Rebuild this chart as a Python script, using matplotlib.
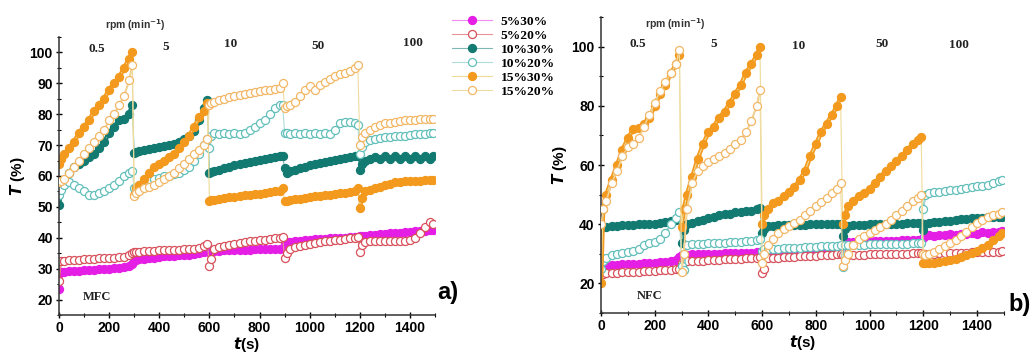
import matplotlib
matplotlib.use("Agg")
import matplotlib.pyplot as plt
from matplotlib.ticker import MultipleLocator
import numpy as np

# sampling offsets inside each 300 s rpm step
seg_offsets = [0, 8, 20, 40, 60, 80, 100, 120, 140, 160, 180, 200, 220, 240, 260, 280, 292]
seg_len = 300
rpm_labels = ["0.5", "5", "10", "50", "100"]
series_names = ["5%30%", "5%20%", "10%30%", "10%20%", "15%30%", "15%20%"]

# ---- MFC (panel a), one list per rpm step ----
mfc_5_30 = [
    [23.5, 29, 29, 29.2, 29.3, 29.4, 29.5, 29.6, 29.7, 29.8, 29.9, 30, 30.1, 30.2, 30.4, 30.8, 31.5],
    [32.5, 32.8, 33, 33.2, 33.4, 33.6, 33.8, 34, 34.1, 34.2, 34.3, 34.4, 34.5, 34.7, 35, 35.3, 35.8],
    [35.5, 35.6, 35.7, 35.8, 35.9, 36, 36, 36.1, 36.2, 36.2, 36.3, 36.3, 36.4, 36.4, 36.5, 36.5, 36.6],
    [38.5, 38.6, 38.7, 38.9, 39.1, 39.3, 39.4, 39.5, 39.6, 39.7, 39.8, 39.9, 40, 40, 40.1, 40.2, 40.3],
    [40.5, 40.6, 40.7, 40.9, 41, 41.2, 41.3, 41.5, 41.6, 41.7, 41.9, 42, 42.1, 42.2, 42.3, 42.4, 42.5],
]
mfc_5_20 = [
    [26, 32.5, 32.5, 32.7, 32.8, 32.9, 33, 33.1, 33.2, 33.3, 33.4, 33.5, 33.6, 33.7, 33.9, 34.3, 35],
    [35.3, 35.4, 35.5, 35.6, 35.7, 35.8, 35.9, 36, 36, 36.1, 36.2, 36.3, 36.4, 36.5, 36.8, 37.2, 38],
    [31, 33, 36.5, 37, 37.3, 37.6, 37.9, 38.2, 38.5, 38.8, 39, 39.2, 39.4, 39.6, 39.8, 40, 40.2],
    [33.5, 35, 36.5, 37, 37.3, 37.6, 37.9, 38.2, 38.5, 38.8, 39, 39.2, 39.4, 39.6, 39.8, 40, 40.2],
    [35.5, 37.5, 38.5, 39, 39, 38.8, 39, 39, 38.8, 39, 39, 39.2, 40, 41.5, 43.5, 45, 44.5],
]
mfc_10_30 = [
    [50.5, 56, 58, 61, 63, 64, 65, 66, 67, 69, 71, 74, 76, 78, 78.5, 80, 83],
    [67.5, 67.8, 68, 68.5, 68.8, 69, 69.3, 69.7, 70, 70.5, 71, 72, 73, 74.5, 78, 82, 84.5],
    [61, 61.2, 61.5, 62, 62.5, 63, 63.4, 63.8, 64.2, 64.6, 65, 65.3, 65.6, 65.9, 66.2, 66.4, 66.6],
    [62.5, 61, 61.5, 62, 62.5, 63, 63.4, 63.8, 64.2, 64.6, 65, 65.3, 65.6, 65.9, 66.2, 66.4, 66.6],
    [62, 64, 65, 65.5, 66, 65.5, 66.5, 65.5, 66.5, 65.5, 66.5, 65.5, 66.5, 65.5, 66.5, 65.5, 66.5],
]
mfc_10_20 = [
    [54, 55.5, 57, 58, 57, 56, 55, 54, 54, 54.5, 55, 56, 57, 58.5, 60, 61, 61.5],
    [56, 56.5, 57, 58, 59, 59, 59.5, 60, 60, 60.5, 61, 62, 63, 65, 67, 70, 72],
    [69, 73, 74, 73.5, 74, 73.5, 74, 73.5, 74, 75, 76, 77, 78, 80, 82, 83, 83],
    [74, 74, 73.5, 74, 73.5, 74, 73.5, 74, 73.5, 74, 73.5, 75, 77, 77.5, 77.5, 77, 76.5],
    [67, 69.5, 71, 71.5, 72, 72.2, 72.5, 72.7, 72.9, 73, 73.1, 73.3, 73.5, 73.6, 73.7, 73.8, 74],
]
mfc_15_30 = [
    [64, 65.5, 67, 69, 71, 74, 76, 78, 81, 83, 85, 88, 90, 92, 95, 98, 100],
    [54, 56, 57, 59, 61, 63, 64, 65, 66, 67, 69, 71, 73, 76, 79, 81, 83.5],
    [52, 52.1, 52.3, 52.6, 52.9, 53.1, 53.3, 53.5, 53.7, 53.9, 54.1, 54.3, 54.5, 54.7, 55, 55.3, 56],
    [52, 52, 52.2, 52.5, 52.7, 53, 53.2, 53.4, 53.6, 53.8, 54, 54.2, 54.4, 54.6, 54.8, 55.2, 56],
    [49.5, 53, 55, 55.5, 56, 56.5, 57, 57.5, 58, 58.2, 58.3, 58.4, 58.5, 58.5, 58.6, 58.6, 58.7],
]
mfc_15_20 = [
    [58, 58.5, 59, 61, 63, 65, 67, 69, 71, 73, 75, 78, 80, 83, 86, 91, 96],
    [53.5, 54.5, 55, 56, 56.5, 57, 58, 59, 60, 61, 62.5, 64, 65.5, 67, 68.5, 70, 72],
    [83, 83.5, 84, 84.5, 85, 85.5, 86, 86.3, 86.6, 87, 87.2, 87.5, 87.8, 88, 88.3, 88.6, 90],
    [82, 82.5, 83, 84, 86, 88, 89, 88, 89.5, 90.5, 91.5, 92.5, 93, 93.5, 94, 95, 96],
    [70, 72.5, 74, 75, 75.8, 76.5, 77, 77.3, 77.6, 77.8, 78, 78, 78.2, 78.3, 78.4, 78.5, 78.6],
]

# ---- NFC (panel b) ----
nfc_5_30 = [
    [25, 26, 26, 26.2, 26.3, 26.4, 26.5, 26.6, 26.7, 26.8, 26.9, 27, 27.1, 27.3, 27.5, 28, 29],
    [29.5, 29.5, 29.7, 29.8, 29.9, 30, 30, 30.1, 30.1, 30.2, 30.2, 30.3, 30.3, 30.4, 30.4, 30.5, 30.6],
    [30.5, 30.6, 30.6, 30.7, 30.7, 30.8, 30.8, 30.9, 30.9, 31, 31, 31.1, 31.1, 31.2, 31.2, 31.3, 31.5],
    [33, 33.5, 34, 34, 34.1, 34.1, 34.2, 34.2, 34.3, 34.3, 34.4, 34.4, 34.5, 34.5, 34.6, 34.6, 34.8],
    [35.5, 36, 36.2, 36, 36.4, 36.2, 36.6, 36.4, 36.8, 36.6, 37, 36.8, 37.2, 37, 37.5, 37.5, 37.8],
]
nfc_5_20 = [
    [23, 23.2, 23.4, 23.5, 23.6, 23.7, 23.8, 23.9, 24, 24.1, 24.2, 24.3, 24.4, 24.5, 24.6, 24.8, 25],
    [27, 27.2, 27.4, 27.5, 27.6, 27.7, 27.8, 27.9, 28, 28.1, 28.2, 28.3, 28.4, 28.5, 28.6, 28.7, 28.8],
    [23.5, 25, 28.5, 28.6, 28.7, 28.8, 28.9, 29, 29.1, 29.2, 29.3, 29.4, 29.5, 29.6, 29.7, 29.8, 29.9],
    [29.5, 29.5, 29.6, 29.6, 29.7, 29.7, 29.8, 29.8, 29.9, 29.9, 30, 30, 30.1, 30.1, 30.2, 30.2, 30.3],
    [30, 30, 30.1, 30.1, 30.2, 30.2, 30.3, 30.3, 30.4, 30.4, 30.5, 30.5, 30.6, 30.6, 30.7, 30.7, 30.8],
]
nfc_10_30 = [
    [39, 39, 39.2, 39.4, 39.5, 39.6, 39.7, 39.8, 39.9, 40, 40, 40.2, 40.4, 40.6, 41, 41.5, 42.5],
    [33.5, 38, 40, 40.5, 41, 41.5, 42, 42.5, 43, 43.3, 43.6, 44, 44.2, 44.4, 44.6, 45, 45.5],
    [37, 38.5, 39.5, 39.5, 39.6, 39.6, 39.7, 39.7, 39.8, 39.8, 39.9, 39.9, 40, 40, 40, 40.1, 40.2],
    [36, 38.5, 39.5, 39.6, 39.7, 39.8, 39.9, 40, 40, 40.1, 40.1, 40.2, 40.2, 40.3, 40.3, 40.4, 40.5],
    [38, 40, 40.5, 40.6, 40.8, 41, 41.2, 41.4, 41.6, 41.8, 42, 42.1, 42.2, 42.3, 42.4, 42.5, 42.5],
]
nfc_10_20 = [
    [25, 27.5, 28.5, 29.5, 30, 30.3, 30.5, 31, 31.5, 33, 33.5, 34, 35, 37, 40, 42, 44],
    [26, 24.5, 33, 33.2, 33.3, 33.4, 33.5, 33.6, 33.7, 33.8, 33.9, 34, 34.1, 34.2, 34.4, 34.7, 35],
    [31, 31.5, 31.5, 31.6, 31.7, 31.8, 31.9, 32, 32.1, 32.2, 32.3, 32.4, 32.5, 32.6, 32.7, 32.8, 33],
    [25.5, 33, 33, 33, 33.1, 33.1, 33.2, 33.2, 33.3, 33.3, 33.3, 33.4, 33.4, 33.4, 33.5, 33.5, 33.5],
    [45, 50, 50.5, 50.8, 51, 51.2, 51.5, 51.7, 52, 52.2, 52.5, 52.8, 53, 53.3, 54, 54.5, 55],
]
nfc_15_30 = [
    [20, 45, 50, 55, 60, 65, 69, 72, 72.5, 74, 76, 80, 84, 87, 91, 94, 97],
    [39, 45, 50, 56, 62, 67, 71, 73, 76, 78, 81, 84, 87, 91, 94, 97, 100],
    [40, 43, 45, 47, 48, 49.5, 51, 52.5, 55, 58, 63, 67, 71, 74, 77, 80, 83],
    [40, 43, 46, 48, 49.5, 50.5, 52, 54, 56, 58, 59.5, 61.5, 63, 65, 67, 68.5, 69.5],
    [27, 26.8, 26.8, 27, 27.2, 27.5, 27.8, 28.2, 28.8, 29.5, 30.2, 31, 32, 33, 34.5, 36, 37],
]
nfc_15_20 = [
    [40, 45, 48, 54, 58, 63, 66, 67, 69, 73, 77, 81, 85, 88, 91, 94, 99],
    [24, 30, 45, 54, 58, 59.5, 61, 62, 63, 64, 65.5, 67, 68.5, 71, 75, 80, 85.5],
    [27, 30, 33, 35, 37, 38.5, 39.5, 40.5, 41.5, 43, 44.5, 46, 47.5, 49, 50.5, 52, 54],
    [26, 28, 30, 33, 35, 36, 37, 38, 39, 40, 41.5, 43, 44.5, 46, 48, 49, 50],
    [30, 29.5, 30, 30.5, 31.5, 32.5, 33.5, 34.5, 36, 37.5, 39, 40.5, 41.5, 42.5, 43, 43.5, 44],
]

# style per series: (line colour, face colour, edge colour)
styles = [
    ("#f08cf0", "#e41ee4", "#e41ee4"),
    ("#e89494", "white", "#d8505a"),
    ("#7fb8b2", "#137a72", "#137a72"),
    ("#b0dcd8", "white", "#62bfba"),
    ("#eedc98", "#f39a1e", "#f39a1e"),
    ("#f0dca0", "white", "#f2b765"),
]

seg_t = [np.array(seg_offsets) + i * seg_len for i in range(5)]
t_all = np.concatenate(seg_t)

plt.rcParams['font.family'] = ['Liberation Sans', 'DejaVu Sans']
fig = plt.figure(figsize=(10.34, 3.55), dpi=100)
ax1 = fig.add_axes([0.0571, 0.1127, 0.3636, 0.7831])
ax2 = fig.add_axes([0.5812, 0.1183, 0.3897, 0.8338])

panels = [
    (ax1, [mfc_5_30, mfc_5_20, mfc_10_30, mfc_10_20, mfc_15_30, mfc_15_20],
     (15, 105), 10, 5, "MFC", (150, 20.7), [101, 101.6, 102.6, 102, 102.9]),
    (ax2, [nfc_5_30, nfc_5_20, nfc_10_30, nfc_10_20, nfc_15_30, nfc_15_20],
     (10, 110), 20, 10, "NFC", (180, 15.8), [101, 101, 100.3, 101, 100.6]),
]
rpm_x = {ax1: [152, 424, 684, 1032, 1412], ax2: [137, 418, 735, 1046, 1332]}

for ax, data, ylim, ymaj, ymin, tag, tag_xy, rpm_y in panels:
    for k, (name, segs, (lc, fc, ec)) in enumerate(zip(series_names, data, styles)):
        z = 2 + 0.1 * k
        filled = fc != "white"
        # band inside each rpm step so the dense record reads as continuous
        for ts, s in zip(seg_t, segs):
            ax.plot(ts, s, '-', color=ec, lw=3.2 if filled else 1.3,
                    solid_capstyle='round', zorder=z)
        vals = np.concatenate([np.array(s, dtype=float) for s in segs])
        ax.plot(t_all, vals, '-', color=lc, lw=0.8, marker='o', ms=5.8,
                mfc=fc, mec=ec, mew=0.9, label=name, zorder=z + 0.05)
    ax.set_xlim(0, 1500)
    ax.set_ylim(*ylim)
    ax.xaxis.set_major_locator(MultipleLocator(200))
    ax.xaxis.set_minor_locator(MultipleLocator(100))
    ax.yaxis.set_minor_locator(MultipleLocator(ymin))
    ax.set_yticks([v for v in range(20, 101, ymaj)])
    ax.spines['right'].set_visible(False)
    ax.spines['top'].set_visible(False)
    for sp in ('left', 'bottom'):
        ax.spines[sp].set_linewidth(1.1)
        ax.spines[sp].set_color('#333333')
    ax.tick_params(which='major', direction='inout', length=5, width=1.0,
                   labelsize=10, pad=2)
    ax.tick_params(which='minor', direction='inout', length=3, width=0.8)
    for lab in ax.get_xticklabels() + ax.get_yticklabels():
        lab.set_fontweight('bold')
    ax.set_xlabel(r'$\boldsymbol{t}$(s)', fontsize=11, fontweight='bold', labelpad=0)
    ax.set_ylabel(r'$\boldsymbol{T}$ (%)', fontsize=11, fontweight='bold', labelpad=2)
    ax.text(tag_xy[0], tag_xy[1], tag, family=['Liberation Serif'], fontweight='bold',
            fontsize=9, ha='center', va='center', color='#222222')
    for lab, xx, yy in zip(rpm_labels, rpm_x[ax], rpm_y):
        ax.text(xx, yy, lab, family=['Liberation Serif'], fontweight='bold',
                fontsize=9.5, ha='center', va='center', color='#222222')

fig.text(0.131, 0.928, r'rpm (min$^{\mathbf{-1}}$)', fontsize=7.5, fontweight='bold',
         color='#333333', ha='center', va='center')
fig.text(0.653, 0.932, r'rpm (min$^{\mathbf{-1}}$)', fontsize=7.5, fontweight='bold',
         color='#333333', ha='center', va='center')
fig.text(0.423, 0.177, 'a)', fontsize=17, fontweight='bold', ha='left', va='center')
fig.text(0.975, 0.143, 'b)', fontsize=17, fontweight='bold', ha='left', va='center')

handles = [h for h in ax1.get_lines() if not h.get_label().startswith('_')]
labels = [h.get_label() for h in handles]
fig.legend(handles, labels, loc='upper left', bbox_to_anchor=(0.432, 0.972),
           frameon=False, prop={'family': 'Liberation Serif', 'weight': 'bold', 'size': 9.7},
           handlelength=3.0, handletextpad=0.6, labelspacing=0.12, borderaxespad=0)

fig.savefig("out.png", dpi=100)
plt.close("all")
